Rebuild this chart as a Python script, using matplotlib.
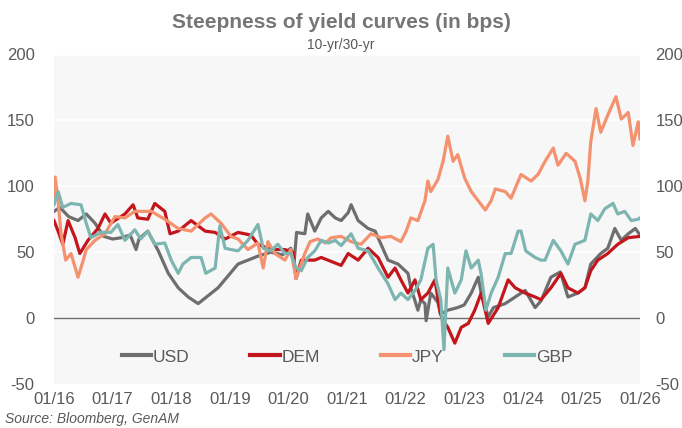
import matplotlib
matplotlib.use("Agg")
import matplotlib.pyplot as plt
import numpy as np

plt.rcParams['font.family'] = ['Liberation Sans', 'DejaVu Sans']
plt.rcParams['axes.unicode_minus'] = False

# ---- data (decimal years, bps) ----
usd_t = [2016.00, 2016.10, 2016.25, 2016.41, 2016.55, 2016.70, 2016.85, 2017.00, 2017.15, 2017.30,
         2017.40, 2017.45, 2017.60, 2017.78, 2017.95, 2018.12, 2018.29, 2018.46, 2018.63, 2018.80,
         2018.97, 2019.14, 2019.31, 2019.48, 2019.70, 2019.90, 2020.04, 2020.10, 2020.14, 2020.28,
         2020.33, 2020.45, 2020.56, 2020.68, 2020.80, 2020.90, 2021.02, 2021.07, 2021.19, 2021.36,
         2021.48, 2021.58, 2021.70, 2021.87, 2022.04, 2022.09, 2022.21, 2022.26, 2022.33, 2022.35,
         2022.43, 2022.55, 2022.60, 2022.72, 2022.89, 2023.00, 2023.12, 2023.24, 2023.29, 2023.41,
         2023.50, 2023.70, 2023.87, 2024.04, 2024.21, 2024.31, 2024.48, 2024.64, 2024.77, 2024.94,
         2025.06, 2025.16, 2025.33, 2025.45, 2025.57, 2025.68, 2025.80, 2025.92, 2026.00]
usd_v = [81, 84, 77, 74, 79, 72, 62, 60, 61, 63,
         52, 60, 66, 51, 34, 23, 16, 11, 17, 23,
         32, 41, 44, 47, 50, 48, 53, 44, 65, 64,
         79, 66, 76, 81, 76, 74, 80, 86, 74, 68,
         66, 56, 44, 41, 34, 23, 6, 14, 11, -2,
         19, 12, 3, 6, 8, 10, 19, 31, 19, 1,
         8, 11, 16, 21, 8, 13, 31, 35, 16, 19,
         23, 41, 49, 53, 68, 59, 64, 68, 63]

dem_t = [2016.00, 2016.07, 2016.15, 2016.24, 2016.36, 2016.44, 2016.58, 2016.75, 2016.87, 2016.97,
         2017.21, 2017.35, 2017.43, 2017.60, 2017.72, 2017.89, 2017.98, 2018.12, 2018.34, 2018.58,
         2018.75, 2018.92, 2019.14, 2019.36, 2019.48, 2019.70, 2019.94, 2020.08, 2020.13, 2020.22,
         2020.45, 2020.56, 2020.73, 2020.90, 2021.02, 2021.19, 2021.36, 2021.53, 2021.70, 2021.82,
         2021.92, 2022.04, 2022.16, 2022.26, 2022.38, 2022.50, 2022.59, 2022.64, 2022.72, 2022.84,
         2022.95, 2023.07, 2023.18, 2023.29, 2023.41, 2023.58, 2023.75, 2023.87, 2024.04, 2024.21,
         2024.31, 2024.48, 2024.65, 2024.77, 2024.94, 2025.06, 2025.16, 2025.28, 2025.45, 2025.62,
         2025.80, 2026.00]
dem_v = [74, 66, 56, 74, 61, 49, 59, 68, 79, 72,
         79, 86, 76, 75, 87, 81, 64, 66, 74, 66,
         65, 60, 65, 63, 56, 52, 52, 50, 30, 44,
         44, 46, 43, 40, 49, 44, 53, 46, 31, 38,
         29, 19, 29, 14, 19, 29, 4, -2, -7, -19,
         -7, -4, 6, 19, -4, 8, 29, 23, 19, 16,
         14, 23, 34, 23, 19, 23, 36, 44, 49, 56,
         61, 62]

jpy_t = [2016.00, 2016.02, 2016.07, 2016.12, 2016.20, 2016.29, 2016.41, 2016.50, 2016.55, 2016.70,
         2016.87, 2017.04, 2017.21, 2017.38, 2017.66, 2017.89, 2018.12, 2018.34, 2018.58, 2018.68,
         2018.85, 2019.02, 2019.14, 2019.31, 2019.48, 2019.57, 2019.65, 2019.77, 2019.94, 2020.04,
         2020.13, 2020.28, 2020.37, 2020.50, 2020.63, 2020.73, 2020.90, 2021.07, 2021.24, 2021.41,
         2021.58, 2021.75, 2021.92, 2022.01, 2022.09, 2022.21, 2022.33, 2022.38, 2022.43, 2022.55,
         2022.64, 2022.72, 2022.81, 2022.89, 2023.01, 2023.12, 2023.24, 2023.36, 2023.46, 2023.53,
         2023.70, 2023.80, 2023.97, 2024.14, 2024.26, 2024.38, 2024.52, 2024.60, 2024.74, 2024.89,
         2024.98, 2025.06, 2025.11, 2025.16, 2025.25, 2025.33, 2025.45, 2025.59, 2025.68, 2025.80,
         2025.88, 2025.97, 2026.00]
jpy_v = [92, 107, 89, 64, 44, 49, 31, 44, 52, 59,
         64, 77, 76, 81, 81, 75, 68, 66, 76, 79,
         72, 62, 60, 52, 57, 38, 58, 49, 44, 52,
         30, 49, 58, 60, 57, 61, 62, 58, 56, 64,
         61, 62, 58, 66, 76, 74, 89, 104, 96, 105,
         119, 138, 119, 124, 106, 96, 89, 82, 89, 98,
         96, 91, 109, 104, 109, 119, 129, 116, 125, 119,
         106, 89, 104, 134, 159, 141, 154, 168, 151, 156,
         131, 149, 136]

gbp_t = [2016.00, 2016.07, 2016.15, 2016.29, 2016.46, 2016.55, 2016.63, 2016.80, 2016.97, 2017.09,
         2017.21, 2017.38, 2017.48, 2017.60, 2017.72, 2017.89, 2018.00, 2018.12, 2018.20, 2018.34,
         2018.51, 2018.59, 2018.75, 2018.83, 2018.92, 2019.02, 2019.14, 2019.31, 2019.48, 2019.57,
         2019.70, 2019.82, 2019.94, 2020.04, 2020.13, 2020.22, 2020.33, 2020.45, 2020.56, 2020.68,
         2020.80, 2020.90, 2021.07, 2021.19, 2021.36, 2021.53, 2021.70, 2021.82, 2021.92, 2022.04,
         2022.16, 2022.26, 2022.38, 2022.47, 2022.52, 2022.60, 2022.655, 2022.72, 2022.84, 2022.95,
         2023.03, 2023.12, 2023.24, 2023.29, 2023.37, 2023.46, 2023.58, 2023.70, 2023.80, 2023.92,
         2023.97, 2024.05, 2024.21, 2024.31, 2024.38, 2024.52, 2024.65, 2024.77, 2024.89, 2025.06,
         2025.16, 2025.28, 2025.40, 2025.54, 2025.62, 2025.74, 2025.85, 2025.97, 2026.00]
gbp_v = [86, 96, 84, 87, 86, 72, 61, 65, 65, 71,
         59, 67, 60, 66, 56, 57, 44, 34, 41, 46,
         46, 34, 38, 70, 53, 52, 51, 59, 71, 53,
         51, 56, 49, 49, 38, 36, 46, 51, 59, 57,
         59, 55, 64, 53, 51, 38, 26, 14, 19, 14,
         21, 29, 53, 56, 29, 14, -24, 38, 19, 29,
         51, 38, 44, 33, 6, 19, 31, 49, 49, 66,
         66, 51, 46, 44, 44, 59, 51, 41, 56, 59,
         79, 74, 83, 87, 79, 81, 74, 75, 76]

series_names = ['USD', 'DEM', 'JPY', 'GBP']
series_colors = ['#6E6E6E', '#C3161C', '#F4916F', '#7DB5B1']
x_tick_pos = [2016, 2017, 2018, 2019, 2020, 2021, 2022, 2023, 2024, 2025, 2026]
x_tick_labels = ['01/16', '01/17', '01/18', '01/19', '01/20', '01/21',
                 '01/22', '01/23', '01/24', '01/25', '01/26']
y_ticks = [-50, 0, 50, 100, 150, 200]
y_tick_labels = ['-50', '0', '50', '100', '150', '200']

# ---- figure ----
fig = plt.figure(figsize=(6.82, 4.28), dpi=100)
rect = [54/682, 1-384/428, 586/682, (384-54.5)/428]
ax = fig.add_axes(rect)
ax.set_facecolor('#F7F7F7')

for yv in [50, 100, 150, 200]:
    ax.axhline(yv, color='white', lw=1.2, zorder=1)
ax.axhline(0, color='#6E6E6E', lw=1.0, zorder=2)

data = [(usd_t, usd_v), (dem_t, dem_v), (jpy_t, jpy_v), (gbp_t, gbp_v)]
for (t, v), name, c in zip(data, series_names, series_colors):
    ax.plot(t, v, color=c, lw=2.3, label=name, zorder=3, solid_joinstyle='round')

ax.set_xlim(2016, 2026)
ax.set_ylim(-50, 200)
ax.set_xticks(x_tick_pos)
ax.set_xticklabels(x_tick_labels)
ax.set_yticks(y_ticks)
ax.set_yticklabels(y_tick_labels)
ax.tick_params(axis='both', length=0, labelsize=12, colors='#595959')
ax.tick_params(axis='y', pad=14)
ax.tick_params(axis='x', pad=6)
for s in ax.spines.values():
    s.set_visible(False)

ax2 = ax.twinx()
ax2.set_ylim(-50, 200)
ax2.set_yticks(y_ticks)
ax2.set_yticklabels(y_tick_labels)
ax2.tick_params(axis='y', length=0, labelsize=12, colors='#595959', pad=11)
for s in ax2.spines.values():
    s.set_visible(False)

leg = ax.legend(loc='center', bbox_to_anchor=(0.5, 0.082), ncol=4, frameon=False,
                fontsize=12.5, handlelength=1.7, handletextpad=0.1, columnspacing=3.5)
for txt in leg.get_texts():
    txt.set_color('#595959')
for ln in leg.get_lines():
    ln.set_linewidth(3)

fig.text(0.5, 1-23/428, 'Steepness of yield curves (in bps)', ha='center', va='center',
         fontsize=15, fontweight='bold', color='#767676')
fig.text(0.5, 1-45/428, '10-yr/30-yr', ha='center', va='center', fontsize=10, color='#595959')
fig.text(5/682, 1-419/428, 'Source: Bloomberg, GenAM', ha='left', va='center',
         fontsize=10, style='italic', color='#595959')

fig.savefig('out.png', dpi=100)
